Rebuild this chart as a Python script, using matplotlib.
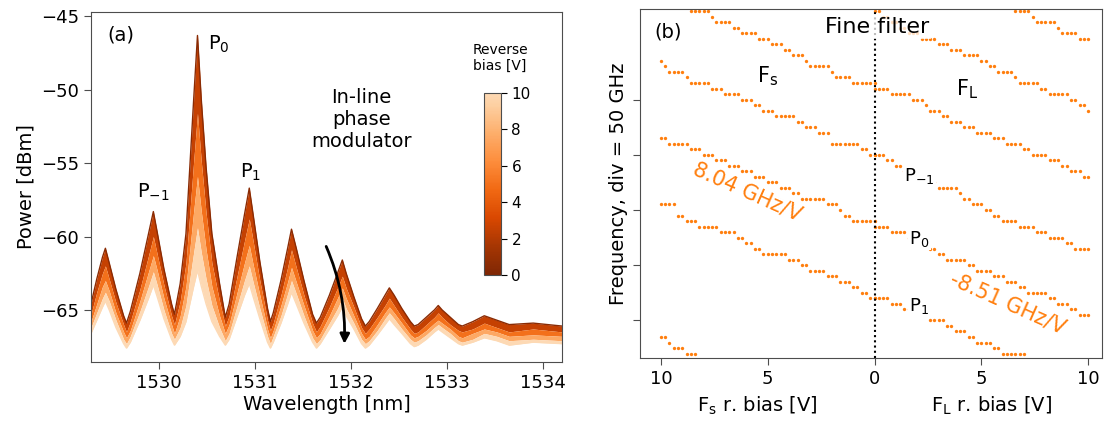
import numpy as np
import matplotlib.pyplot as plt
import matplotlib as mpl
from matplotlib.colors import ListedColormap, Normalize

# ---------------- panel (a): spectra vs reverse bias ----------------
wl = [1529.29,
      1529.35, 1529.41, 1529.44, 1529.48, 1529.55, 1529.63, 1529.66,
      1529.70, 1529.80, 1529.89, 1529.94, 1529.98, 1530.05, 1530.13, 1530.16,
      1530.22, 1530.28, 1530.32, 1530.36, 1530.40, 1530.44, 1530.49, 1530.55, 1530.63, 1530.69,
      1530.73, 1530.81, 1530.89, 1530.94, 1530.98, 1531.05, 1531.13, 1531.16,
      1531.19, 1531.27, 1531.34, 1531.38, 1531.43, 1531.51, 1531.60, 1531.64,
      1531.68, 1531.775, 1531.86, 1531.91, 1531.95, 1532.03, 1532.11, 1532.15,
      1532.19, 1532.275, 1532.355, 1532.40, 1532.45, 1532.53, 1532.62, 1532.66,
      1532.70, 1532.785, 1532.87, 1532.91, 1532.95, 1533.035, 1533.12, 1533.16,
      1533.27, 1533.39, 1533.52, 1533.65,
      1533.90, 1534.20]

spec_0V = [-64.6,
           -62.9, -61.4, -60.8, -61.8, -63.6, -65.4, -65.9,
           -65.1, -62.5, -59.8, -58.3, -59.7, -62.2, -64.6, -65.3,
           -63.2, -59.8, -55.3, -50.7, -46.3, -50.7, -55.3, -59.8, -63.2, -65.5,
           -64.6, -61.5, -58.5, -56.7, -58.5, -61.7, -64.9, -65.8,
           -65.2, -63.0, -60.8, -59.5, -60.8, -63.0, -65.3, -65.9,
           -65.5, -64.0, -62.5, -61.6, -62.5, -64.1, -65.6, -66.1,
           -65.8, -64.9, -64.0, -63.5, -64.0, -64.9, -65.8, -66.1,
           -66.0, -65.5, -65.0, -64.7, -65.0, -65.5, -66.0, -66.1,
           -65.8, -65.4, -65.7, -66.0,
           -65.9, -66.1]

spec_2V5 = [-65.3,
            -63.8, -62.5, -62.0, -62.9, -64.5, -66.0, -66.5,
            -65.8, -63.6, -61.3, -60.0, -61.2, -63.3, -65.4, -66.0,
            -64.4, -61.8, -58.4, -54.9, -51.6, -54.9, -58.4, -61.8, -64.4, -66.1,
            -65.4, -62.8, -60.3, -58.8, -60.3, -63.0, -65.7, -66.4,
            -65.9, -64.0, -62.1, -60.9, -62.1, -64.0, -65.9, -66.5,
            -66.1, -64.8, -63.5, -62.7, -63.5, -64.8, -66.2, -66.6,
            -66.3, -65.5, -64.7, -64.2, -64.7, -65.5, -66.3, -66.6,
            -66.5, -66.0, -65.5, -65.2, -65.5, -66.0, -66.4, -66.5,
            -66.3, -65.9, -66.2, -66.5,
            -66.3, -66.5]

spec_5V = [-65.8,
           -64.6, -63.4, -63.0, -63.7, -65.2, -66.5, -66.9,
           -66.4, -64.4, -62.4, -61.3, -62.3, -64.2, -66.0, -66.6,
           -65.4, -63.4, -60.9, -58.3, -55.9, -58.3, -60.9, -63.4, -65.4, -66.6,
           -66.0, -63.9, -61.8, -60.6, -61.9, -64.0, -66.3, -66.9,
           -66.4, -64.7, -63.1, -62.1, -63.1, -64.7, -66.4, -66.9,
           -66.6, -65.4, -64.2, -63.5, -64.2, -65.4, -66.6, -67.0,
           -66.8, -66.0, -65.2, -64.8, -65.2, -65.9, -66.7, -66.9,
           -66.8, -66.4, -65.9, -65.7, -65.9, -66.3, -66.8, -66.9,
           -66.6, -66.3, -66.5, -66.8,
           -66.7, -66.8]

spec_7V5 = [-66.2,
            -65.2, -64.2, -63.8, -64.4, -65.7, -67.0, -67.3,
            -66.8, -65.1, -63.4, -62.4, -63.3, -65.0, -66.6, -67.0,
            -66.2, -64.7, -62.9, -61.1, -59.4, -61.1, -62.9, -64.7, -66.2, -67.1,
            -66.6, -64.8, -63.0, -62.0, -63.1, -64.9, -66.8, -67.3,
            -66.8, -65.4, -63.9, -63.0, -63.9, -65.4, -66.9, -67.3,
            -67.0, -65.9, -64.9, -64.2, -64.9, -65.9, -67.0, -67.3,
            -67.1, -66.4, -65.6, -65.2, -65.6, -66.3, -67.0, -67.2,
            -67.1, -66.7, -66.2, -66.0, -66.2, -66.6, -67.1, -67.2,
            -67.0, -66.6, -66.8, -67.1,
            -67.0, -67.1]

spec_10V = [-66.6,
            -65.7, -64.8, -64.4, -65.0, -66.2, -67.3, -67.6,
            -67.2, -65.7, -64.2, -63.3, -64.1, -65.6, -67.0, -67.4,
            -66.8, -65.8, -64.6, -63.4, -62.3, -63.4, -64.6, -65.8, -66.8, -67.4,
            -67.0, -65.5, -64.0, -63.2, -64.1, -65.6, -67.2, -67.6,
            -67.2, -65.9, -64.6, -63.8, -64.6, -65.9, -67.2, -67.6,
            -67.3, -66.3, -65.4, -64.8, -65.4, -66.3, -67.3, -67.6,
            -67.4, -66.7, -66.0, -65.6, -66.0, -66.6, -67.3, -67.5,
            -67.4, -67.0, -66.5, -66.3, -66.5, -66.9, -67.3, -67.4,
            -67.2, -66.9, -67.1, -67.4,
            -67.2, -67.3]

bias_levels = [0, 2.5, 5, 7.5, 10]
spectra = [spec_0V, spec_2V5, spec_5V, spec_7V5, spec_10V]

# ---------------- panel (b): fine filter tuning ----------------
# each line: first dot x (signed bias axis), first level [GHz], dots per 5 GHz level
bias_step = 0.2
freq_step = 5
lines_b = [
    (-8.6, 280, [5, 1, 4, 2, 4, 3, 3, 2, 3, 1, 5, 1, 4, 6]),           # F_s top
    (-10.0, 235, [1, 1, 4, 1, 5, 3, 4, 3, 2, 3, 5, 2, 3, 3, 0, 7, 2, 2]),  # F_s
    (-10.0, 165, [2, 5, 3, 3, 3, 3, 3, 3, 3, 3, 2, 6, 3, 1, 2, 6]),     # F_s
    (-10.0, 105, [4, 0, 2, 3, 5, 4, 2, 2, 2, 6, 3, 2, 4, 3, 3, 2, 2, 2]),  # F_s
    (-10.0, -15, [2, 1, 3, 3]),                                        # F_s bottom
    (6.6, 280, [4, 1, 5, 1, 4, 3]),                                    # F_L top
    (0.0, 280, [2, 2, 2, 2, 3, 4, 3, 3, 4, 2, 2, 4, 1, 5, 2, 5, 2, 2, 1]),  # F_L
    (0.0, 210, [4, 5, 3, 1, 3, 2, 3, 3, 4, 3, 4, 2, 4, 3, 2, 3, 2]),     # F_L
    (0.0, 150, [3, 2, 2, 2, 3, 3, 5, 1, 2, 3, 2, 2, 4, 4, 3, 4, 2, 4]),  # F_L, P-1
    (0.0, 85, [4, 4, 3, 2, 2, 2, 5, 2, 4, 3, 3, 2, 5, 2, 3, 2, 3]),      # F_L, P0
    (0.0, 20, [4, 3, 4, 2, 4, 2, 3, 2, 4, 2, 6]),                        # F_L, P1
]

orange = '#ff7f0e'
cmap = ListedColormap(plt.cm.Oranges(np.linspace(1.0, 0.2, 256)))
norm = Normalize(0, 10)

plt.rcParams['font.family'] = 'DejaVu Sans'
fig = plt.figure(figsize=(11.04, 4.21), dpi=100)

# ---- (a)
ax1 = fig.add_axes([91/1104, 1-362/421, (562-91)/1104, 350/421])
for i in range(len(spectra)-1):
    ax1.fill_between(wl, spectra[i+1], spectra[i], color=cmap(norm(bias_levels[i+1])), lw=0)
ax1.plot(wl, spec_0V, color=cmap(norm(0.5)), lw=1.0)
ax1.plot(wl, spec_10V, color=cmap(norm(10)), lw=1.0)

ax1.set_xlim(1529.29, 1534.2)
ax1.set_ylim(-68.55, -44.7)
ax1.set_yticks([-65, -60, -55, -50, -45])
ax1.set_xticks([1530, 1531, 1532, 1533, 1534])
ax1.tick_params(labelsize=13, length=5, color='0.3')
ax1.set_xlabel('Wavelength [nm]', fontsize=14, labelpad=2)
ax1.set_ylabel('Power [dBm]', fontsize=14, labelpad=4)
for sp in ax1.spines.values():
    sp.set_color('0.3')

ax1.text(1529.60, -46.3, '(a)', fontsize=14, ha='center', va='center')
ax1.text(1530.62, -46.9, '$\\mathregular{P_0}$', fontsize=14, ha='center', va='center')
ax1.text(1529.94, -57.0, '$\\mathregular{P_{-1}}$', fontsize=14, ha='center', va='center')
ax1.text(1530.95, -55.6, '$\\mathregular{P_1}$', fontsize=14, ha='center', va='center')
ax1.text(1532.11, -52.0, 'In-line\nphase\nmodulator', fontsize=14, ha='center', va='center',
         linespacing=1.2)
ax1.annotate('', xy=(1531.93, -67.5), xytext=(1531.73, -60.5),
             arrowprops=dict(arrowstyle='-|>', color='k', lw=2, mutation_scale=14,
                             connectionstyle='arc3,rad=-0.12'))

cax = fig.add_axes([484/1104, 1-275/421, 17/1104, 182/421])
cb = mpl.colorbar.ColorbarBase(cax, cmap=cmap, norm=norm, ticks=[0, 2, 4, 6, 8, 10])
cb.ax.tick_params(labelsize=11, length=4)
cb.outline.set_edgecolor('0.3')
fig.text(500/1104, 1-58/421, 'Reverse\nbias [V]', fontsize=10, ha='center', va='center')

# ---- (b)
ax2 = fig.add_axes([640/1104, 1-358/421, (1102-640)/1104, 349/421])
for x0, y0, runs in lines_b:
    n = sum(runs)
    xs = x0 + bias_step*np.arange(n)
    ys = y0 - freq_step*np.repeat(np.arange(len(runs)), runs)
    ax2.plot(xs, ys, 'o', color=orange, ms=2.4, mew=0)
ax2.axvline(0, color='k', ls=(0, (1, 1.5)), lw=1.5)

ax2.set_xlim(-10.98, 10.65)
ax2.set_ylim(-34, 282)
ax2.set_xticks([-10, -5, 0, 5, 10])
ax2.set_xticklabels(['10', '5', '0', '5', '10'])
ax2.set_yticks([0, 50, 100, 150, 200])
ax2.set_yticklabels([])
ax2.tick_params(labelsize=13, length=5, color='0.3')
ax2.set_ylabel('Frequency, div = 50 GHz', fontsize=14, labelpad=0)
for sp in ax2.spines.values():
    sp.set_color('0.3')

ax2.text(-5.5, -77, 'F$_\\mathregular{s}$ r. bias [V]', fontsize=14, ha='center', va='center')
ax2.text(5.5, -77, 'F$_\\mathregular{L}$ r. bias [V]', fontsize=14, ha='center', va='center')
ax2.text(-9.67, 261, '(b)', fontsize=14, ha='center', va='center')
ax2.text(0.1, 266, 'Fine filter', fontsize=16, ha='center', va='center',
         bbox=dict(facecolor='white', edgecolor='none', alpha=0.75, pad=2))
ax2.text(-5.0, 221, 'F$_\\mathregular{s}$', fontsize=15, ha='center', va='center')
ax2.text(4.35, 209, 'F$_\\mathregular{L}$', fontsize=15, ha='center', va='center')
for lab, yy in [('$\\mathregular{P_{-1}}$', 131), ('$\\mathregular{P_0}$', 74), ('$\\mathregular{P_1}$', 13)]:
    ax2.text(2.1, yy, lab, fontsize=13, ha='center', va='center',
             bbox=dict(facecolor='white', edgecolor='none', pad=1))
ax2.text(-5.93, 116, '8.04 GHz/V', fontsize=15, color=orange, rotation=-24,
         ha='center', va='center')
ax2.text(6.26, 15.7, '-8.51 GHz/V', fontsize=15, color=orange, rotation=-24,
         ha='center', va='center')

fig.savefig('out.png', dpi=100)
